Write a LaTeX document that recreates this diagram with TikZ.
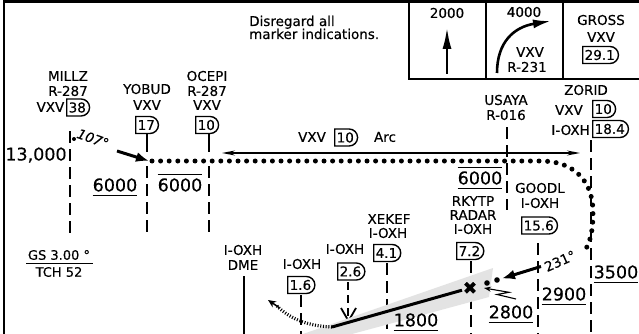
\documentclass[tikz,border=0pt]{standalone}
\usepackage{fontspec}
\setmainfont{DejaVu Sans}[FakeBold=0.35]
\usetikzlibrary{shapes.misc,arrows.meta}
\begin{document}
\begin{tikzpicture}[x=1pt,y=-1pt,
  lbl/.style={inner sep=0pt,font=\fontsize{13.5}{14}\selectfont},
  note/.style={inner sep=0pt,font=\fontsize{13.5}{14}\selectfont,anchor=base west},
  alt/.style={inner sep=0pt,font=\fontsize{17.5}{18}\selectfont},
  dbox/.style={draw,line width=1.4pt,rounded rectangle,rounded rectangle left arc=none,
     inner xsep=2pt,inner ysep=0pt,minimum height=17pt,anchor=west,font=\fontsize{13.5}{14}\selectfont},
  fixd/.style={line width=1.3pt,dash pattern=on 12pt off 6pt},
  fixs/.style={line width=1.3pt},
  frameline/.style={line width=2.6pt},
  boxline/.style={line width=1.5pt},
  dotpath/.style={line width=5pt,line cap=round,dash pattern=on 0pt off 8.6pt},
  uline/.style={line width=1.2pt},
  course/.style={line width=3pt,-{Latex[length=13pt,width=10pt]}},
]
\useasboundingbox (0,0) rectangle (639,334);
\fill[white] (0,0) rectangle (639,334);

% frame
\draw[frameline] (4,334) -- (4,1.3) -- (639,1.3);
% top right boxes
\draw[boxline] (409,1) -- (409,79) -- (639,79);
\draw[boxline] (486,1) -- (486,79);
\draw[boxline] (563,1) -- (563,79);

\node[lbl] (t2000) at (447,13) {2000};
\coordinate (a2000s) at (447,74);
\coordinate (a2000e) at (447,27);
\draw[line width=2.6pt,-{Latex[length=22pt,width=9pt]}] (a2000s) -- (a2000e);

\node[lbl] (t4000) at (524,12) {4000};
\coordinate (a4000s) at (497,73);
\coordinate (a4000e) at (551,21);
\draw[line width=2.6pt,-{Latex[length=18pt,width=9pt]}] (a4000s) .. controls (497,42) and (514,27) .. (a4000e);
\node[lbl] (t4vxv) at (530,52) {VXV};
\node[lbl] (t4r) at (527,67) {R-231};

\node[lbl] (gross) at (601,20) {GROSS};
\node[lbl] (grossv) at (601,37) {VXV};
\node[dbox] (b291) at (582,55) {29.1};

% note
\node[note] (n1) at (249,26) {Disregard all};
\node[note] (n2) at (249,39) {marker indications.};

% MILLZ
\node[lbl] (millz) at (68,76) {MILLZ};
\node[lbl] (millzr) at (68,91) {R-287};
\node[lbl,anchor=east] (millzv) at (64.5,107) {VXV};
\node[dbox] (b38) at (66,107.5) {38};
\coordinate (mtop) at (70,131);
\coordinate (mbot) at (70,237);
\draw[fixd] (mtop) -- (mbot);
\node[alt] (a13000) at (36,155) {13,000};

% YOBUD
\node[lbl] (yobud) at (147,89) {YOBUD};
\node[lbl] (yobudv) at (147,105) {VXV};
\node[dbox] (b17) at (135,125) {17};
\coordinate (ytop) at (147,134);
\coordinate (ybot) at (147,232);
\draw[fixs] (ytop) -- (147,152);
\draw[fixd] (147,166) -- (ybot);

% OCEPI
\node[lbl] (ocepi) at (207,76) {OCEPI};
\node[lbl] (ocepir) at (207,91) {R-287};
\node[lbl] (ocepiv) at (207,105) {VXV};
\node[dbox] (b10a) at (195,125) {10};
\coordinate (otop) at (209,134);
\coordinate (obot) at (209,232);
\draw[fixs] (otop) -- (209,152);
\draw[fixd] (209,166) -- (obot);

% altitudes left
\node[alt] (alt6a) at (115,185) {6000};
\draw[uline] ([yshift=-3.5pt]alt6a.south west) -- ([yshift=-3.5pt]alt6a.south east);
\node[alt] (alt6b) at (180,185) {6000};
\draw[uline] ([yshift=3.5pt]alt6b.north west) -- ([yshift=3.5pt]alt6b.north east);

% 107 course
\fill (74,139) circle (2);
\node[lbl,font=\fontsize{13.5}{14}\selectfont\itshape,rotate=-20] (c107) at (93,138.5) {107°};
\coordinate (c107s) at (117,151);
\coordinate (c107e) at (149,161);
\draw[course] (c107s) -- (c107e);

% arc
\node[lbl] (arcv) at (312,137) {VXV};
\node[dbox] (b10arc) at (334,137.5) {10};
\node[lbl] (arct) at (385,137) {Arc};
\coordinate (arcl) at (222,153);
\coordinate (arcr) at (580,153);
\draw[line width=1.2pt,{Stealth[length=13pt,width=5pt]}-{Stealth[length=13pt,width=5pt]}] (arcl) -- (arcr);

% dotted track
\coordinate (dstart) at (152,161);
\coordinate (dend) at (584,252);
\draw[dotpath] (dstart) -- (540,161) .. controls (578,161) and (593,185) .. (593,212) .. controls (593,232) and (590,243) .. (dend);

% USAYA
\node[lbl] (usaya) at (506,100) {USAYA};
\node[lbl] (usayar) at (506,115) {R-016};
\coordinate (utop) at (507,127);
\coordinate (ubot) at (507,210);
\draw[fixd] (utop) -- (ubot);
\node[alt] (alt6c) at (480,178) {6000};
\draw[uline] ([yshift=3.5pt]alt6c.north west) -- ([yshift=3.5pt]alt6c.north east);
\draw[uline] ([yshift=-3.5pt]alt6c.south west) -- ([yshift=-3.5pt]alt6c.south east);

% ZORID
\node[lbl] (zorid) at (586,90) {ZORID};
\node[lbl,anchor=east] (zoridv) at (583,110) {VXV};
\node[dbox] (b10z) at (592,109) {10};
\node[lbl,anchor=east] (zoridi) at (590,130) {I-OXH};
\node[dbox] (b184) at (592,129) {18.4};
\coordinate (ztop) at (591,140);
\coordinate (zbot) at (591,334);
\draw[fixd] (ztop) -- (zbot);

% GOODL
\node[lbl] (goodl) at (540,188) {GOODL};
\node[lbl] (goodli) at (540,203) {I-OXH};
\node[dbox] (b156) at (521,225.5) {15.6};
\coordinate (gtop) at (538,243);
\coordinate (gbot) at (538,334);
\draw[fixd] (gtop) -- (gbot);

% RKYTP
\node[lbl] (rkytp) at (473,201) {RKYTP};
\node[lbl] (radar) at (473,215) {RADAR};
\node[lbl] (rkytpi) at (473,229) {I-OXH};
\node[dbox] (b72) at (456,251) {7.2};
\coordinate (rtop) at (471,261);
\coordinate (rbot) at (471,334);
\draw[fixd] (rtop) -- (rbot);

% XEKEF
\node[lbl] (xekef) at (389,219) {XEKEF};
\node[lbl] (xekefi) at (388,233) {I-OXH};
\node[dbox] (b41) at (373,253) {4.1};
\coordinate (xtop) at (387,263);
\coordinate (xbot) at (387,334);
\draw[fixd] (xtop) -- (xbot);

% 2.6
\node[lbl] (i26) at (345,249) {I-OXH};
\node[dbox] (b26) at (337,271.5) {2.6};
\coordinate (s26top) at (348,282);
\coordinate (s26bot) at (348,334);
\draw[line width=1.3pt,dash pattern=on 8pt off 5pt] (s26top) -- (s26bot);
\draw[line width=1.8pt] (341,308) -- (348.5,321) -- (356,308);

% 1.6
\node[lbl] (i16) at (302,264) {I-OXH};
\node[dbox] (b16) at (287,285) {1.6};
\coordinate (s16top) at (301,295);
\coordinate (s16bot) at (301,334);
\draw[fixd] (s16top) -- (s16bot);

% DME
\node[lbl] (dmei) at (243,250) {I-OXH};
\node[lbl] (dme) at (243,265) {DME};
\coordinate (dtop) at (244,276);
\coordinate (dbot) at (244,334);
\draw[fixs] (dtop) -- (dbot);

% glide slope
\fill[gray!22] (303,334) -- (493,268) -- (489,297) -- (352,334) -- cycle;
\coordinate (gsl) at (332,327);
\coordinate (fafx) at (470,288);
\draw[line width=3pt] (gsl) -- (462,290.2);
\node[inner sep=0pt,font=\fontsize{17}{17}\selectfont] (xmark) at (fafx) {✖};
\fill (487,283) circle (2.8);
\fill (497,280) circle (2.8);

% missed approach
\coordinate (mae) at (268,300);
\draw[line width=3.2pt,dash pattern=on 1pt off 1.7pt] (gsl) .. controls (305,326) and (288,317) .. (277,306);
\draw[line width=1.5pt,-{Stealth[length=8pt,width=7pt]}] (279,307.5) -- (mae);

% 231 course
\coordinate (c231s) at (541,266.5);
\coordinate (c231e) at (502,278.5);
\draw[course] (c231s) -- (c231e);
\node[lbl,rotate=24] (c231) at (560,261) {231°};

% lightning
\coordinate (lts) at (516,299);
\coordinate (lte) at (484,288);
\draw[line width=1.1pt,-{Stealth[length=7pt,width=5pt]}] (lts) -- (497,294.5) -- (509,292.3) -- (lte);

% altitudes right
\node[alt] (alt29) at (564,294) {2900};
\draw[uline] ([yshift=-4pt]alt29.south west) -- ([yshift=-4pt]alt29.south east);
\node[alt] (alt35) at (616,272) {3500};
\draw[uline] ([yshift=-3.5pt]alt35.south west) -- ([yshift=-3.5pt]alt35.south east);
\node[alt] (alt28) at (511,312) {2800};
\draw[uline] ([yshift=-3.5pt]alt28.south west) -- ([yshift=-3.5pt]alt28.south east);
\node[alt] (alt18) at (416,320) {1800};
\draw[uline] ([yshift=-3.5pt]alt18.south west) -- ([yshift=-3.5pt]alt18.south east);

% GS / TCH
\node[inner sep=0pt,font=\fontsize{13}{14}\selectfont] (gs) at (59,255) {GS 3.00 °};
\draw[line width=1pt] (26,263) -- (93,263);
\node[inner sep=0pt,font=\fontsize{13}{14}\selectfont] (tch) at (59,272) {TCH 52};
\end{tikzpicture}
\end{document}
